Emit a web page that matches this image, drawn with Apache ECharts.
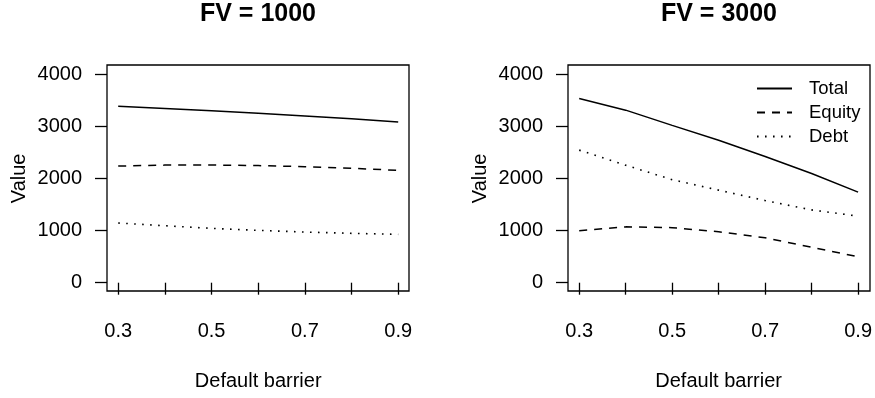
<!DOCTYPE html>
<html>
<head>
<meta charset="utf-8">
<script src="https://cdn.jsdelivr.net/npm/echarts@6/dist/echarts.min.js"></script>
<style>
html,body{margin:0;padding:0;background:#fff;}
#chart{width:875px;height:398px;}
</style>
</head>
<body>
<div id="chart"></div>
<script>
var barrier = [0.3, 0.4, 0.5, 0.6, 0.7, 0.8, 0.9];
var xTickLabels = ['0.3', '0.5', '0.7', '0.9'];
var yTicks = [0, 1000, 2000, 3000, 4000];
var panelTitles = ['FV = 1000', 'FV = 3000'];
var seriesNames = ['Total', 'Equity', 'Debt'];

var totalFV1000 = [3380, 3340, 3297, 3250, 3195, 3140, 3080];
var equityFV1000 = [2236, 2254, 2256, 2245, 2224, 2192, 2153];
var debtFV1000 = [1144, 1092, 1041, 1003, 971, 946, 927];

var totalFV3000 = [3530, 3307, 3015, 2730, 2420, 2094, 1736];
var equityFV3000 = [996, 1070, 1055, 977, 860, 680, 498];
var debtFV3000 = [2541, 2253, 1975, 1774, 1575, 1395, 1276];

var FONT = "'Liberation Sans', Arial, Helvetica, sans-serif";

function pairs(ys) { return barrier.map(function (x, i) { return [x, ys[i]]; }); }

var lineStyles = [
  { type: 'solid', width: 1.5, color: '#000' },
  { type: [8, 7], width: 1.5, color: '#000' },
  { type: [1.6, 6.4], width: 1.6, color: '#000' }
];

var panels = [
  { frameLeft: 107, data: [totalFV1000, equityFV1000, debtFV1000] },
  { frameLeft: 568, data: [totalFV3000, equityFV3000, debtFV3000] }
];

var FRAME_W = 302, FRAME_TOP = 65, FRAME_H = 226;
var DATA_PAD_X = 11.2, DATA_W = 280, DATA_TOP = 74, DATA_H = 208.7;

var grids = [], xAxes = [], yAxes = [], series = [], graphics = [];

panels.forEach(function (p, k) {
  grids.push({ left: p.frameLeft + DATA_PAD_X, top: DATA_TOP, width: DATA_W, height: DATA_H, containLabel: false });
  grids.push({ left: p.frameLeft, top: FRAME_TOP, width: FRAME_W, height: FRAME_H, show: true,
    borderColor: '#000', borderWidth: 1.3, backgroundColor: 'transparent', z: 5 });
  var gData = k * 2, gFrame = k * 2 + 1;
  xAxes.push({
    type: 'value', gridIndex: gData, min: 0.3, max: 0.9, interval: 0.1,
    offset: FRAME_TOP + FRAME_H - (DATA_TOP + DATA_H),
    axisLine: { show: false },
    axisTick: { show: true, length: 12, lineStyle: { color: '#000', width: 1.3 } },
    splitLine: { show: false },
    axisLabel: {
      show: true, margin: 30, color: '#000', fontFamily: FONT, fontSize: 20,
      showMinLabel: true, showMaxLabel: true,
      formatter: function (v) {
        var s = (Math.round(v * 10) / 10).toFixed(1);
        return xTickLabels.indexOf(s) >= 0 ? s : '';
      }
    },
    name: 'Default barrier', nameLocation: 'middle', nameGap: 80,
    nameTextStyle: { color: '#000', fontFamily: FONT, fontSize: 20 }
  });
  yAxes.push({
    type: 'value', gridIndex: gData, min: yTicks[0], max: yTicks[yTicks.length - 1], interval: 1000,
    offset: DATA_PAD_X,
    axisLine: { show: false },
    axisTick: { show: true, length: 12, lineStyle: { color: '#000', width: 1.3 } },
    splitLine: { show: false },
    axisLabel: { show: true, margin: 25, color: '#000', fontFamily: FONT, fontSize: 20,
      formatter: function (v) { return String(Math.round(v)); } },
    name: 'Value', nameLocation: 'middle', nameGap: 78, nameRotate: 90,
    nameTextStyle: { color: '#000', fontFamily: FONT, fontSize: 20 }
  });
  xAxes.push({ type: 'value', gridIndex: gFrame, show: false, min: 0, max: 1 });
  yAxes.push({ type: 'value', gridIndex: gFrame, show: false, min: 0, max: 1 });

  seriesNames.forEach(function (name, j) {
    series.push({
      type: 'line', name: name, xAxisIndex: k * 2, yAxisIndex: k * 2,
      data: pairs(p.data[j]), symbol: 'none', smooth: false,
      lineStyle: lineStyles[j], itemStyle: { color: '#000' }
    });
  });

  graphics.push({
    type: 'text', x: p.frameLeft + FRAME_W / 2, y: 14,
    style: { text: panelTitles[k], fill: '#000', font: 'bold 25px ' + FONT, textAlign: 'center', textVerticalAlign: 'middle' }
  });
});

var chart = echarts.init(document.getElementById('chart'), null, { renderer: 'canvas' });
chart.setOption({
  animation: false,
  backgroundColor: '#fff',
  textStyle: { fontFamily: FONT },
  grid: grids,
  xAxis: xAxes,
  yAxis: yAxes,
  series: series,
  graphic: graphics,
  legend: {
    show: true,
    data: seriesNames, orient: 'vertical', left: 756, top: 79, padding: 0,
    itemWidth: 35, itemHeight: 14, itemGap: 5,
    itemStyle: { color: 'transparent', borderWidth: 0 },
    textStyle: { color: '#000', fontFamily: FONT, fontSize: 18.5, padding: [0, 0, 0, 12] },
    selectedMode: false
  }
});
</script>
</body>
</html>
